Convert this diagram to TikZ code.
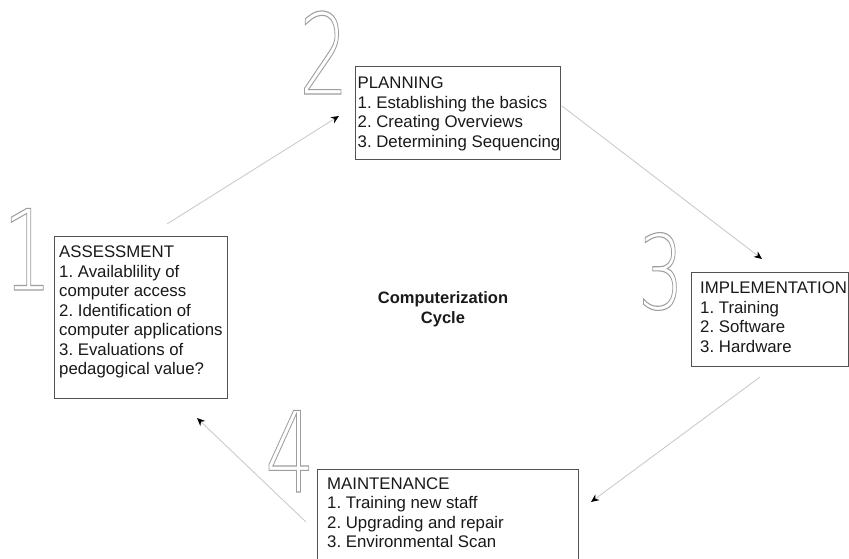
\documentclass[tikz,border=0pt]{standalone}
\usepackage{fontspec}
\setmainfont{Liberation Sans}
\IfFontExistsTF{DejaVu Sans ExtraLight}{\newfontfamily\digitfont{DejaVu Sans ExtraLight}}{\newfontfamily\digitfont{DejaVu Sans}}
\usetikzlibrary{arrows.meta}
\newcommand\outlinetext[1]{\special{pdf:literal direct 1 Tr 1.1 w}#1\special{pdf:literal direct 0 Tr}}
\begin{document}
\frenchspacing
\begin{tikzpicture}[x=1pt,y=-1pt,
  box/.style={draw=black!68, line width=1.4pt, rectangle, inner sep=0pt, anchor=north west},
  txt/.style={font=\frenchspacing\fontsize{16.8}{19.5}\selectfont, text=black!90, align=left, inner sep=0pt, anchor=north west},
  digit/.style={font=\digitfont\fontsize{112}{112}\selectfont, text=black!38, inner sep=0pt, anchor=base, xscale=0.7, transform shape},
  conn/.style={draw=black!20, line width=0.9pt, -{Stealth[length=8pt,width=7pt,black]}}]
\useasboundingbox (0,0) rectangle (849,559);
\fill[white] (0,0) rectangle (849,559);
% big outlined numbers
\node[digit] (d1) at (27.5,290) {\outlinetext{1}};
\node[digit] (d2) at (324,94) {\outlinetext{2}};
\node[digit, font=\digitfont\fontsize{103}{103}\selectfont] (d3) at (661,309) {\outlinetext{3}};
\node[digit] (d4) at (290,492) {\outlinetext{4}};
% boxes
\node[box, minimum width=173pt, minimum height=162pt] (assess) at (54,236) {};
\node[box, minimum width=205pt, minimum height=93pt] (plan) at (355,66) {};
\node[box, minimum width=157pt, minimum height=94pt] (impl) at (691,272) {};
\node[box, minimum width=261pt, minimum height=110pt] (maint) at (317,469) {};
% texts
\node[txt] (assessT) at (59,243.7) {\rule{0pt}{14pt}ASSESSMENT\\1. Availablility of\\computer access\\2. Identification of\\computer applications\\3. Evaluations of\\pedagogical value?};
\node[txt] (planT) at (357.5,74.5) {\rule{0pt}{14pt}PLANNING\\1. Establishing the basics\\2. Creating Overviews\\3. Determining Sequencing};
\node[txt] (implT) at (700,279.3) {\rule{0pt}{14pt}IMPLEMENTATION\\1. Training\\2. Software\\3. Hardware};
\node[txt] (maintT) at (327,475) {\rule{0pt}{14pt}MAINTENANCE\\1. Training new staff\\2. Upgrading and repair\\3. Environmental Scan};
\node[font=\bfseries\fontsize{16.5}{20}\selectfont, text=black!90, align=center, inner sep=0pt, anchor=north] (title) at (443,289) {\rule{0pt}{14pt}Computerization\\Cycle};
% connector ends
\coordinate (c1s) at (167,224);
\coordinate (c1e) at (339,116);
\coordinate (c2s) at (562,106);
\coordinate (c2e) at (762,259);
\coordinate (c3s) at (760,377);
\coordinate (c3e) at (591,502);
\coordinate (c4s) at (306,522);
\coordinate (c4e) at (197,418);
\draw[conn] (c1s) -- (c1e);
\draw[conn] (c2s) -- (c2e);
\draw[conn] (c3s) -- (c3e);
\draw[conn] (c4s) -- (c4e);
\end{tikzpicture}
\end{document}
